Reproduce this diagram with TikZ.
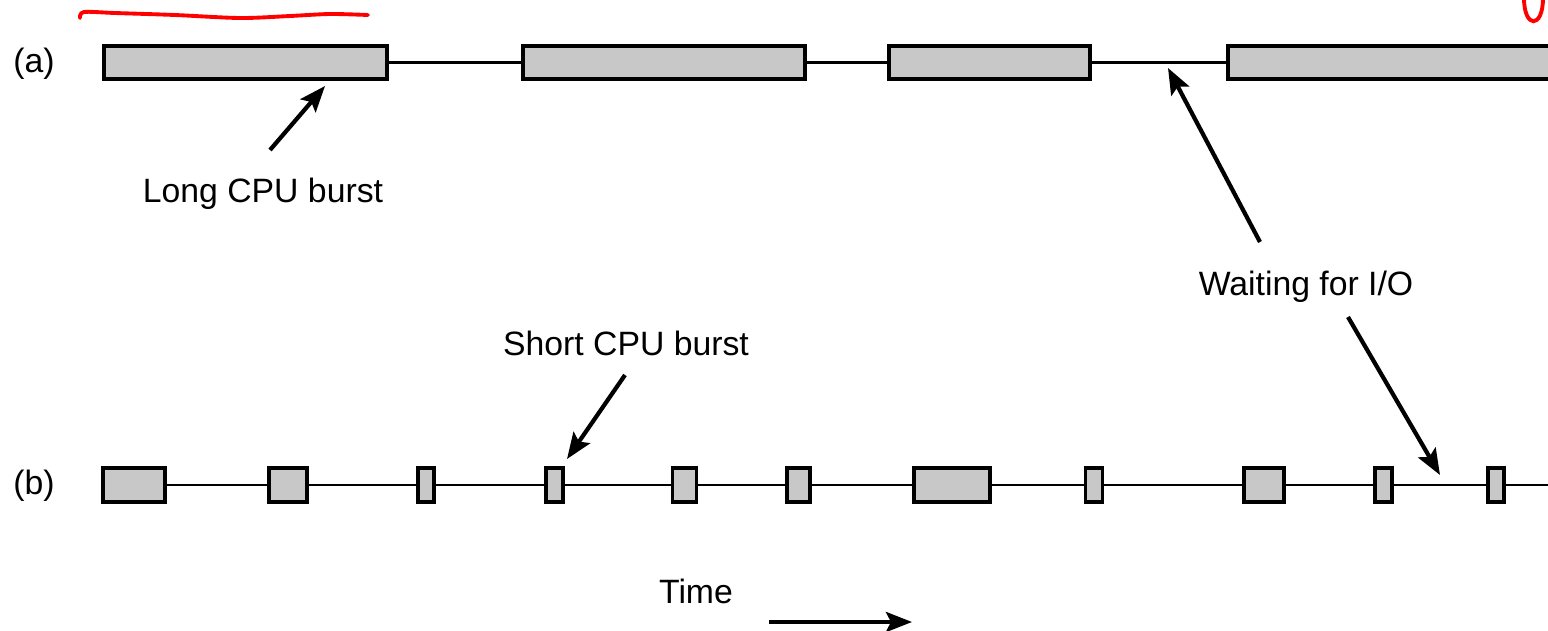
\documentclass[tikz,border=0pt]{standalone}
\usepackage{fontspec}
\setmainfont{Liberation Sans}
\usepackage{tikz}
\usetikzlibrary{arrows.meta}
\usepackage{xcolor}

\definecolor{burstgray}{RGB}{200,200,200}

\tikzset{
    burst/.style={draw, line width=1.1pt, fill=burstgray, inner sep=0pt},
    burstA/.style={burst, minimum height=0.33cm},
    burstB/.style={burst, minimum height=0.34cm},
    wait/.style={line width=0.8pt},
    ptr/.style={-{Stealth[length=2.6mm, width=2mm, inset=0.5mm]}, line width=1.2pt},
    lbl/.style={font=\fontsize{9.6pt}{11pt}\selectfont, inner sep=0pt}
}

\begin{document}
\begin{tikzpicture}[x=0.01cm, y=-0.01cm]

    \useasboundingbox (0,0) rectangle (1548,630);

    % Rangée (a) : longues rafales
    \node[lbl] (rowa) at (34,64) {(a)};
    \node[burstA, minimum width=2.83cm] (a1) at (245.5,62.5) {};
    \node[burstA, minimum width=2.82cm] (a2) at (664,62.5) {};
    \node[burstA, minimum width=2.01cm] (a3) at (989.5,62.5) {};
    \node[burstA, minimum width=3.40cm, anchor=west] (a4) at (1226,62.5) {};
    \draw[wait] (a1.east) -- (a2.west);
    \draw[wait] (a2.east) -- (a3.west);
    \draw[wait] (a3.east) -- (a4.west);

    % Rangée (b) : courtes rafales
    \node[lbl] (rowb) at (34,486) {(b)};
    \node[burstB, minimum width=0.62cm] (b1) at (134,485) {};
    \node[burstB, minimum width=0.38cm] (b2) at (288,485) {};
    \node[burstB, minimum width=0.16cm] (b3) at (426,485) {};
    \node[burstB, minimum width=0.17cm] (b4) at (554.5,485) {};
    \node[burstB, minimum width=0.24cm] (b5) at (684.5,485) {};
    \node[burstB, minimum width=0.23cm] (b6) at (798.5,485) {};
    \node[burstB, minimum width=0.76cm] (b7) at (952,485) {};
    \node[burstB, minimum width=0.17cm] (b8) at (1094,485) {};
    \node[burstB, minimum width=0.40cm] (b9) at (1264,485) {};
    \node[burstB, minimum width=0.17cm] (b10) at (1383.5,485) {};
    \node[burstB, minimum width=0.16cm] (b11) at (1496,485) {};
    \coordinate (bend) at (1560,485);
    \foreach \i/\j in {b1/b2, b2/b3, b3/b4, b4/b5, b5/b6, b6/b7, b7/b8, b8/b9, b9/b10, b10/b11}
        \draw[wait] (\i.east) -- (\j.west);
    \draw[wait] (b11.east) -- (bend);

    % Étiquettes
    \node[lbl, anchor=base] (long) at (263,202) {Long CPU burst};
    \node[lbl, anchor=base] (short) at (626,355) {Short CPU burst};
    \node[lbl, anchor=base] (waitio) at (1306,295) {Waiting for I/O};
    \node[lbl, anchor=base] (time) at (696,603) {Time};

    % Flèches
    \coordinate (longtail) at (270,150);
    \coordinate (longtip) at (325,86);
    \draw[ptr] (longtail) -- (longtip);

    \coordinate (shorttail) at (625,375);
    \coordinate (shorttip) at (567,459);
    \draw[ptr] (shorttail) -- (shorttip);

    \coordinate (waituptail) at (1260,242);
    \coordinate (waituptip) at (1168,68);
    \draw[ptr] (waituptail) -- (waituptip);

    \coordinate (waitdntail) at (1348,317);
    \coordinate (waitdntip) at (1440,475);
    \draw[ptr] (waitdntail) -- (waitdntip);

    \coordinate (timetail) at (769,622);
    \coordinate (timetip) at (912,622);
    \draw[ptr] (timetail) -- (timetip);

    % Traits rouges à la main
    \draw[red, line width=1.1pt, line cap=round] plot[smooth] coordinates
        {(80,18) (84,12) (115,13) (175,15) (240,18) (290,16) (330,14) (368,15)};
    \draw[red, line width=1.1pt] (1524,-2) .. controls (1524,29) and (1543,29) .. (1543,-2);

\end{tikzpicture}
\end{document}
